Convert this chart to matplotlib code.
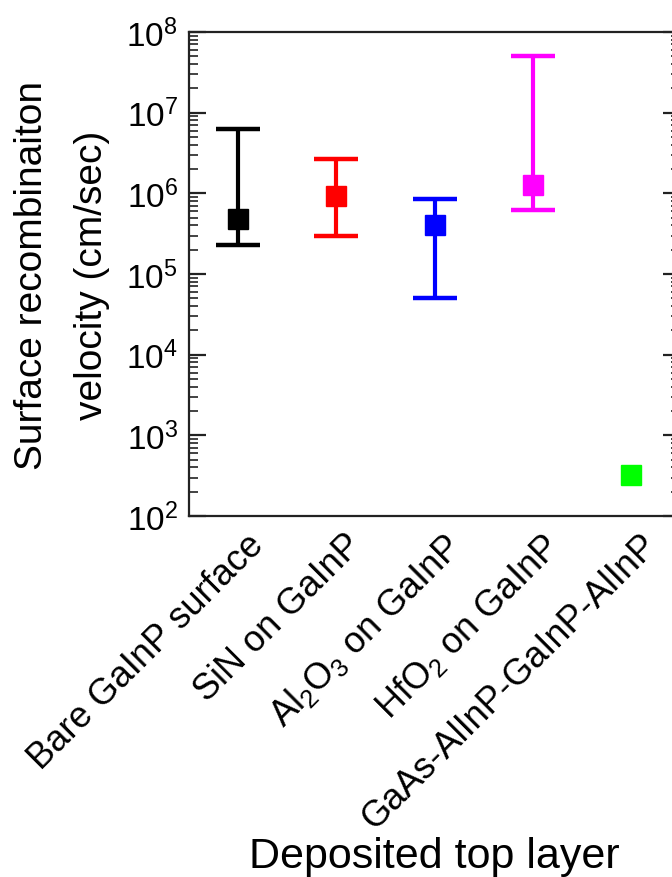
import numpy as np
import matplotlib
matplotlib.use('Agg')
import matplotlib.pyplot as plt
import matplotlib.transforms as mtransforms
from matplotlib.ticker import LogLocator, NullFormatter

plt.rcParams['font.family'] = ['Liberation Sans', 'DejaVu Sans']
plt.rcParams['mathtext.fontset'] = 'custom'
plt.rcParams['mathtext.rm'] = 'Liberation Sans'
plt.rcParams['mathtext.it'] = 'Liberation Sans:italic'
plt.rcParams['mathtext.bf'] = 'Liberation Sans:bold'
plt.rcParams['mathtext.default'] = 'regular'

# surface recombination velocity for each top layer (cm/sec)
layers = ['Bare GaInP surface', 'SiN on GaInP', r'Al$_2$O$_3$ on GaInP',
          r'HfO$_2$ on GaInP', 'GaAs-AlInP-GaInP-AlInP']
srv = [4.8e5, 9.2e5, 4.0e5, 1.26e6, 3.2e2]
srv_low = [2.3e5, 3.0e5, 5.05e4, 6.2e5, np.nan]
srv_high = [6.3e6, 2.7e6, 8.6e5, 5.1e7, np.nan]
colors = ['black', '#ff0000', '#0000ff', '#ff00ff', '#00ff00']

fig = plt.figure(figsize=(6.72, 8.78), dpi=100)
ax = fig.add_axes([189/672, 1 - 517/878, (680 - 189)/672, (517 - 33)/878])

x = np.arange(1, len(layers) + 1)
for xi, v, lo, hi, c in zip(x, srv, srv_low, srv_high, colors):
    if np.isnan(lo):
        ax.plot(xi, v, 's', color=c, ms=15, zorder=3)
    else:
        ax.errorbar(xi, v, yerr=[[v - lo], [hi - v]], fmt='s', color=c,
                    ms=15, capsize=15.5, capthick=3.2, elinewidth=3, zorder=3)

ax.set_yscale('log')
ax.set_ylim(1e2, 1e8)
ax.set_xlim(0.5, 5.5)
ax.yaxis.set_major_locator(LogLocator(base=10, numticks=10))
ax.yaxis.set_minor_locator(LogLocator(base=10, subs=np.arange(2, 10), numticks=20))
ax.yaxis.set_minor_formatter(NullFormatter())

for s in ax.spines.values():
    s.set_linewidth(1.6)
    s.set_color('#222222')

ax.tick_params(axis='y', which='both', direction='in', right=True,
               labelsize=24, pad=8, colors='#222222', labelcolor='black')
ax.tick_params(axis='y', which='major', length=12, width=1.6)
ax.tick_params(axis='y', which='minor', length=6.5, width=1.2)
ax.tick_params(axis='x', length=0, pad=8)

ax.set_xticks(x)
ax.set_xticklabels(layers, rotation=45, ha='right', va='top',
                   rotation_mode='anchor', fontsize=26)
shift = mtransforms.ScaledTranslation(8/100, 0, fig.dpi_scale_trans)
for lab in ax.get_xticklabels():
    lab.set_transform(lab.get_transform() + shift)

ax.set_ylabel('Surface recombinaiton\nvelocity (cm/sec)', fontsize=28,
              linespacing=1.85, labelpad=12)
fig.text(434.5/672, 1 - 868/878, 'Deposited top layer', fontsize=31,
         ha='center', va='baseline')

fig.savefig('out.png', dpi=100)
